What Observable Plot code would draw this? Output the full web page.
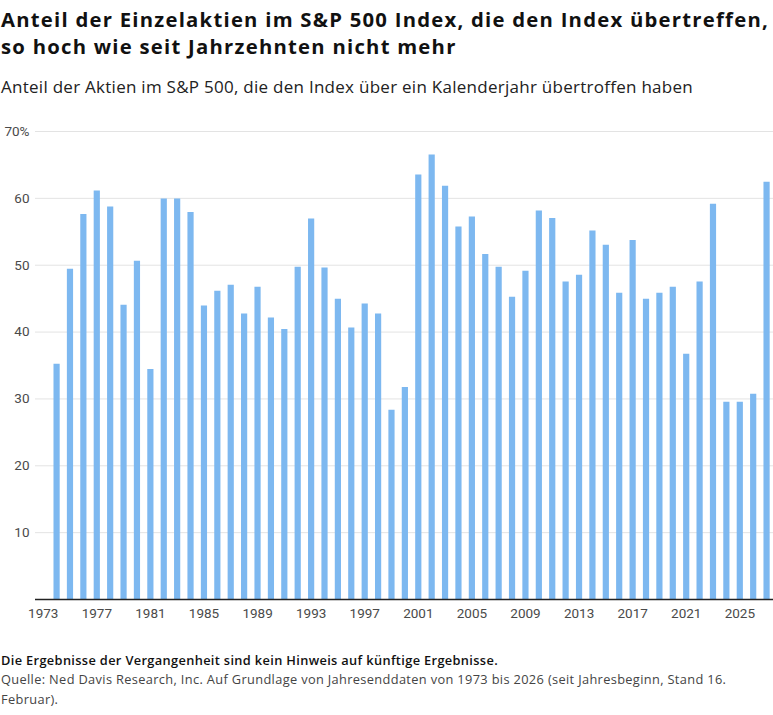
<!DOCTYPE html>
<html><head><meta charset="utf-8">
<script src="https://cdn.jsdelivr.net/npm/d3@7"></script>
<script src="https://cdn.jsdelivr.net/npm/@observablehq/plot@0.6"></script>
<style>
body{margin:0;background:#fff;width:773px;height:715px;position:relative;overflow:hidden;font-family:"Open Sans",Roboto,sans-serif;color:#111;}
.blk{position:absolute;left:1px;white-space:nowrap;}
.blk span{display:inline-block;}
#title{top:6px;font-size:20.3px;font-weight:700;line-height:27px;color:#111;}
#subtitle{top:76px;font-size:17px;font-weight:400;line-height:22px;color:#222;}
#chart{position:absolute;left:0;top:115px;}
#foot{top:650.5px;font-size:12.8px;line-height:19.5px;color:#444;}
#foot .b{color:#111;font-weight:600;}
</style></head>
<body>
<div id="title" class="blk"><span data-w="768">Anteil der Einzelaktien im S&amp;P 500 Index, die den Index übertreffen,</span><br><span>so hoch wie seit Jahrzehnten nicht mehr</span></div>
<div id="subtitle" class="blk"><span data-w="692">Anteil der Aktien im S&amp;P 500, die den Index über ein Kalenderjahr übertroffen haben</span></div>
<div id="chart"></div>
<div id="foot" class="blk"><span class="b" data-w="497">Die Ergebnisse der Vergangenheit sind kein Hinweis auf künftige Ergebnisse.</span><br><span data-w="750">Quelle: Ned Davis Research, Inc. Auf Grundlage von Jahresenddaten von 1973 bis 2026 (seit Jahresbeginn, Stand 16.</span><br><span>Februar).</span></div>
<script>
const years = d3.range(1973, 2027);
const shares = [
  35.2, 49.4, 57.6, 61.1, 58.7, 44.0, 50.6, 34.4, 59.9, 59.9,
  57.9, 43.9, 46.1, 47.0, 42.7, 46.7, 42.1, 40.4, 49.7, 56.9,
  49.6, 44.9, 40.6, 44.2, 42.7, 28.3, 31.7, 63.5, 66.5, 61.8,
  55.7, 57.2, 51.6, 49.7, 45.2, 49.1, 58.1, 57.0, 47.5, 48.5,
  55.1, 53.0, 45.8, 53.7, 44.9, 45.8, 46.7, 36.7, 47.5, 59.1,
  29.5, 29.5, 30.7, 62.4
];
const xTickYears = d3.range(1973, 2026, 4);
const yTicks = [10, 20, 30, 40, 50, 60, 70];

// each value is the year-end reading of its calendar year
const data = years.map((y, i) => ({date: new Date(Date.UTC(y, 11, 31)), value: shares[i]}));

const chart = Plot.plot({
  width: 773,
  height: 514,
  marginLeft: 35,
  marginRight: 0,
  marginTop: 16,
  marginBottom: 30,
  style: {fontFamily: "Roboto, sans-serif", fontSize: "13.5px", color: "#4a4a4a", background: "transparent"},
  x: {type: "utc", domain: [new Date("1972-06-04"), new Date("2027-07-08")], range: [35, 773],
      ticks: xTickYears.map(y => new Date(Date.UTC(y, 0, 1))), tickFormat: "%Y", tickSize: 0, tickPadding: 9, label: null},
  y: {domain: [0, 70], ticks: yTicks, tickSize: 0, tickPadding: 6, label: null,
      tickFormat: d => d === 70 ? "70%" : String(d)},
  marks: [
    Plot.gridY(yTicks, {stroke: "#e3e3e3", strokeOpacity: 1, strokeWidth: 1}),
    Plot.ruleX(data, {x: "date", y: "value", stroke: "#7db8f0", strokeWidth: 6.2}),
    Plot.ruleY([0], {stroke: "#222", strokeWidth: 1.3})
  ]
});
document.getElementById("chart").appendChild(chart);

// fit each block's letter-spacing so its measured line matches the reference width
document.querySelectorAll(".blk").forEach(blk => {
  const ref = blk.querySelector("span[data-w]");
  const target = +ref.dataset.w;
  const n = ref.textContent.length;
  const w = ref.getBoundingClientRect().width;
  blk.style.letterSpacing = ((target - w) / n) + "px";
});
</script>
</body></html>
